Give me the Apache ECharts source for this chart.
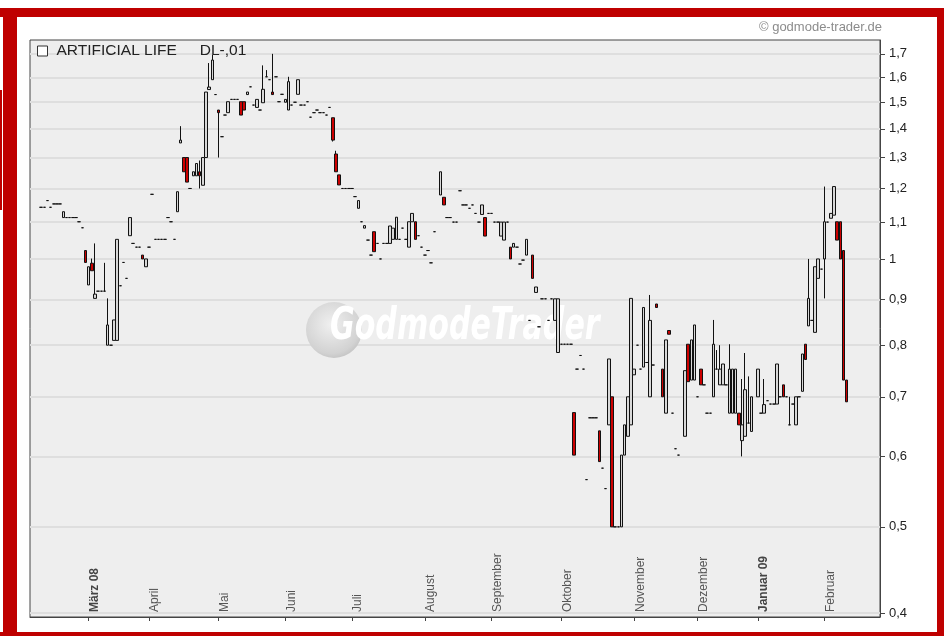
<!DOCTYPE html>
<html>
<head>
<meta charset="utf-8">
<title>ARTIFICIAL LIFE</title>
<script src="https://cdn.jsdelivr.net/npm/echarts@6/dist/echarts.min.js"></script>
<style>
  html, body { margin: 0; padding: 0; background: #fff; }
  #myChart { width: 944px; height: 636px; }
</style>
</head>
<body>
<div id="myChart"></div>
<script>
// Tageskurse je Monat
// Zahl = nur ein Kurs (Strich), [open, close] oder [open, close, low, high], null = kein Kurs
const feb08 = [null, null, null, 1.143, 1.143, 1.163, 1.143, 1.153, 1.153, 1.153, [1.113, 1.13], 1.113, 1.113, 1.113, 1.113, 1.101, 1.084, [1.022, 0.991]]
const mar08 = [[0.935, 0.98], [0.989, 0.97, 0.97, 1.001], [0.903, 0.913, 0.903, 1.041], 0.92, 0.92, [0.92, 0.92, 0.92, 0.99], [0.80, 0.843, 0.80, 0.903], 0.80, [0.81, 0.854], [0.81, 1.052], 0.933, 0.991, 0.951, [1.062, 1.113], 1.041, 1.031, 1.031, [1.01, 1.0], [0.98, 1.0]]
const apr08 = [1.031, 1.182, 1.052, 1.052, 1.052, 1.052, 1.113, 1.101, 1.052, [1.13, 1.19], [1.35, 1.36, 1.35, 1.41], [1.30, 1.253], [1.30, 1.22], 1.20, [1.24, 1.253], [1.24, 1.28], [1.253, 1.24, 1.20, 1.29], [1.21, 1.30], [1.30, 1.54], [1.55, 1.56, 1.55, 1.66], [1.59, 1.673, 1.59, 1.695], 1.53]
const may08 = [[1.47, 1.46, 1.30, 1.47], 1.372, 1.451, [1.46, 1.502], 1.511, 1.511, 1.511, [1.502, 1.451], [1.502, 1.47], [1.53, 1.54], 1.561, 1.489, [1.48, 1.511], 1.47, [1.498, 1.551, 1.498, 1.65], [1.602, 1.602, 1.602, 1.63], 1.59, [1.54, 1.53, 1.53, 1.70], 1.602, 1.502, 1.531]
const jun08 = [[1.50, 1.511], [1.47, 1.582, 1.47, 1.602], 1.489, 1.50, [1.531, 1.59], 1.489, 1.489, 1.502, 1.443, 1.46, 1.47, 1.46, 1.46, 1.451, 1.48, [1.441, 1.36, 1.355, 1.441], [1.312, 1.253, 1.253, 1.323], [1.243, 1.211], 1.20, 1.20, 1.20]
const jul08 = [1.20, 1.175, [1.14, 1.163], 1.101, [1.083, 1.09], 1.05, 1.01, [1.073, 1.019], 1.041, 1.0, 1.041, 1.041, [1.041, 1.089], [1.052, 1.083], [1.052, 1.114], 1.052, 1.083, 1.052, [1.031, 1.101], [1.101, 1.125], [1.101, 1.052], 1.062, 1.031]
const aug08 = [1.01, 1.022, 0.99, 1.073, null, [1.18, 1.253], [1.173, 1.15], 1.113, 1.113, 1.10, 1.10, 1.193, 1.15, 1.15, 1.14, 1.15, 1.125, 1.10, [1.122, 1.15], [1.113, 1.061], 1.125]
const sep08 = [1.125, 1.10, 1.10, [1.061, 1.10], [1.05, 1.10], 1.10, [1.031, 1.0], [1.031, 1.041], 1.031, 0.987, 0.997, [1.01, 1.052], 0.853, [1.01, 0.951], [0.917, 0.93], 0.839, 0.902, 0.902, 0.853, 0.902, [0.853, 0.902], [0.785, 0.902]]
const oct08 = [0.802, 0.802, 0.802, 0.802, [0.672, 0.602], 0.752, 0.779, 0.752, 0.565, 0.663, 0.663, 0.663, [0.641, 0.592], 0.582, 0.552, [0.651, 0.772], [0.70, 0.50], 0.50, 0.50, [0.50, 0.602], [0.602, 0.651], [0.632, 0.70], [0.651, 0.903]]
const nov08 = [[0.741, 0.752], 0.80, 0.752, [0.756, 0.882], 0.765, [0.70, 0.853, 0.70, 0.911], 0.76, [0.89, 0.882], null, [0.752, 0.70], [0.671, 0.811], [0.831, 0.823], 0.671, 0.612, 0.602, null, [0.632, 0.749], [0.802, 0.728], [0.731, 0.811], [0.731, 0.843]]
const dec08 = [0.70, [0.752, 0.722], 0.722, 0.671, 0.671, [0.70, 0.802, 0.70, 0.854], [0.752, 0.752, 0.752, 0.79], [0.722, 0.752, 0.722, 0.80], [0.722, 0.762], 0.722, [0.671, 0.752, 0.671, 0.802], [0.671, 0.752], [0.671, 0.752], [0.671, 0.651], [0.625, 0.651, 0.60, 0.733], [0.632, 0.713, 0.632, 0.784], [0.654, 0.654, 0.654, 0.738], [0.64, 0.70], null]
const jan09 = [[0.70, 0.752], 0.671, [0.671, 0.686, 0.671, 0.733], 0.693, 0.687, 0.687, [0.687, 0.762], 0.70, [0.722, 0.70], 0.70, [0.651, 0.651, 0.651, 0.70], 0.687, [0.651, 0.70], 0.70, [0.71, 0.782], [0.802, 0.771], [0.841, 0.903, 0.841, 1.0], 0.853, [0.827, 0.98], [0.951, 1.0], 0.974]
const feb09 = [[1.0, 1.101, 0.903, 1.206], 1.10, [1.111, 1.125], [1.12, 1.206], [1.101, 1.05], [1.101, 1.0], [1.022, 0.731], [0.731, 0.691], null, null, null, null, null, null, null, null, null, null]

const monthNames = ['', 'März 08', 'April', 'Mai', 'Juni', 'Juli', 'August', 'September', 'Oktober', 'November', 'Dezember', 'Januar 09', 'Februar']
const boldMonths = ['März 08', 'Januar 09']
const yTicks = [0.4, 0.5, 0.6, 0.7, 0.8, 0.9, 1, 1.1, 1.2, 1.3, 1.4, 1.5, 1.6, 1.7]

const monthData = [feb08, mar08, apr08, may08, jun08, jul08, aug08, sep08, oct08, nov08, dec08, jan09, feb09]

function toOHLC(d) {
  if (d === null) return ['-', '-', '-', '-']
  if (typeof d === 'number') return [d, d, d, d]
  if (d.length === 2) return [d[0], d[1], Math.min(d[0], d[1]), Math.max(d[0], d[1])]
  return d
}

// Kategorien (Handelstage) und Monatsanfaenge
const categories = []
const candles = []
const monthStart = {}
monthData.forEach((arr, m) => {
  arr.forEach((d, k) => {
    categories.push(m + '-' + k)
    if (k === 0 && monthNames[m]) monthStart[categories.length - 1] = monthNames[m]
    candles.push(toOHLC(d))
  })
})

const isMonthStart = (idx) => monthStart[idx] !== undefined
const font = '"Liberation Sans", Arial, sans-serif'
const frameRed = '#bf0000'

const myChart = echarts.init(document.getElementById('myChart'))
myChart.setOption({
  animation: false,
  backgroundColor: '#fff',
  textStyle: { fontFamily: font },
  grid: {
    left: 30,
    right: 64,
    top: 40,
    bottom: 19,
    show: true,
    backgroundColor: '#eeeeee',
    borderColor: '#444',
    borderWidth: 1
  },
  legend: {
    left: 37,
    top: 43,
    padding: 0,
    icon: 'rect',
    itemWidth: 10,
    itemHeight: 10,
    itemStyle: { color: '#ffffff', borderColor: '#333', borderWidth: 1 },
    textStyle: {
      fontSize: 15.5,
      color: '#222',
      rich: {
        a: { fontSize: 15.5, color: '#222', padding: [0, 0, 0, 4] },
        b: { fontSize: 15.5, color: '#222', padding: [0, 0, 0, 23] }
      }
    },
    formatter: (name) => '{a|' + name + '}{b|DL-,01}'
  },
  graphic: [
    // roter Rahmen
    { type: 'rect', shape: { x: 0, y: 8, width: 944, height: 9 }, style: { fill: frameRed } },
    { type: 'rect', shape: { x: 3, y: 8, width: 14, height: 628 }, style: { fill: frameRed } },
    { type: 'rect', shape: { x: 937, y: 8, width: 7, height: 628 }, style: { fill: frameRed } },
    { type: 'rect', shape: { x: 0, y: 632, width: 944, height: 4 }, style: { fill: frameRed } },
    { type: 'rect', shape: { x: 0, y: 90, width: 2, height: 120 }, style: { fill: frameRed } },
    {
      type: 'text',
      x: 882,
      y: 27,
      style: { text: '\u00a9 godmode-trader.de', fill: '#8c8c8c', font: '13px ' + font, textAlign: 'right', textVerticalAlign: 'middle' }
    },
    // Wasserzeichen
    {
      type: 'circle',
      z: 1,
      shape: { cx: 334, cy: 330, r: 28 },
      style: {
        fill: new echarts.graphic.RadialGradient(0.45, 0.4, 0.65, [
          { offset: 0, color: '#f0f0f0' },
          { offset: 0.8, color: '#d2d2d2' },
          { offset: 1, color: '#c0c0c0' }
        ])
      }
    },
    {
      type: 'text',
      z: 1,
      x: 330,
      y: 328,
      scaleX: 0.76,
      style: {
        text: 'GodmodeTrader',
        font: 'italic bold 44px "Liberation Sans Narrow", "DejaVu Sans Condensed", sans-serif',
        fill: '#ffffff',
        textVerticalAlign: 'middle',
        shadowColor: 'rgba(0,0,0,0.35)',
        shadowBlur: 3,
        shadowOffsetX: 2,
        shadowOffsetY: 3
      }
    }
  ],
  xAxis: {
    type: 'category',
    data: categories,
    boundaryGap: true,
    axisLine: { show: true, lineStyle: { color: '#444' } },
    axisTick: {
      show: true,
      alignWithLabel: true,
      length: 4,
      interval: isMonthStart,
      lineStyle: { color: '#444' }
    },
    axisLabel: {
      interval: isMonthStart,
      inside: true,
      rotate: 90,
      margin: 5,
      verticalAlign: 'top',
      padding: [0, 0, 0, 0],
      fontSize: 12,
      color: '#555',
      formatter: (val, idx) => {
        const name = monthStart[idx] || ''
        return boldMonths.includes(name) ? '{b|' + name + '}' : name
      },
      rich: {
        b: { fontSize: 12, fontWeight: 'bold', color: '#444' }
      }
    },
    splitLine: { show: false }
  },
  yAxis: {
    type: 'log',
    logBase: 10,
    position: 'right',
    min: 0.396,
    max: 1.762,
    axisLine: { show: true, lineStyle: { color: '#444' } },
    axisTick: { show: true, length: 5, customValues: yTicks, lineStyle: { color: '#444' } },
    axisLabel: {
      customValues: yTicks,
      margin: 9,
      fontSize: 13,
      color: '#222',
      formatter: (v) => String(Math.round(v * 10) / 10).replace('.', ',')
    },
    splitLine: { show: true, lineStyle: { color: '#dedede', width: 2 } }
  },
  series: [
    {
      name: 'ARTIFICIAL LIFE',
      type: 'candlestick',
      data: candles,
      barWidth: 3,
      itemStyle: {
        color: '#d8d8d8',
        color0: '#cc0000',
        borderColor: '#111',
        borderColor0: '#111',
        borderColorDoji: '#111',
        borderWidth: 1
      }
    }
  ]
})
</script>
</body>
</html>
